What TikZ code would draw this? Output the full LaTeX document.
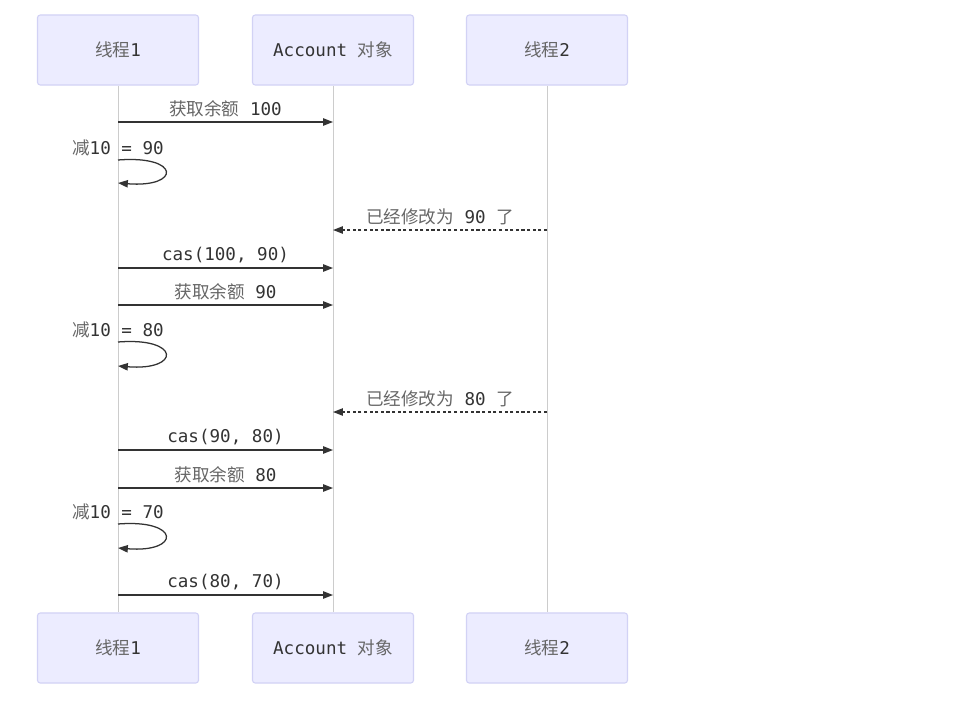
\documentclass[tikz,border=0pt]{standalone}
\usepackage{fontspec}
\setmainfont{DejaVu Sans Mono}
\newfontfamily\cjk{Noto Sans CJK SC}
\usetikzlibrary{arrows.meta}
\definecolor{boxfill}{HTML}{ECECFF}
\definecolor{boxline}{HTML}{D2D2F5}
\definecolor{lifegray}{HTML}{CCCCCC}
\definecolor{txt}{HTML}{333333}
\definecolor{zhtxt}{HTML}{666666}
\newcommand{\zh}[1]{{\cjk\color{zhtxt}#1}}
\tikzset{
  actor/.style={draw=boxline, fill=boxfill, rounded corners=2pt, line width=0.8pt,
    minimum width=4.025cm, minimum height=1.75cm, text=txt, font=\fontsize{12.5}{14}\selectfont},
  life/.style={draw=lifegray, line width=0.6pt},
  msg/.style={draw=txt, line width=0.9pt, -{Triangle[length=7pt,width=5.2pt]}},
  reply/.style={msg, dash pattern=on 2.2pt off 1.8pt},
  lbl/.style={text=txt, font=\fontsize{12.5}{14}\selectfont, above, inner sep=3pt}
}
\begin{document}
\begin{tikzpicture}[x=0.025cm, y=-0.025cm]
  \useasboundingbox (0,0) rectangle (968,704);
  % actors
  \node[actor] (t1top) at (118,50) {\zh{线程}1};
  \node[actor] (acctop) at (333,50) {Account \zh{对象}};
  \node[actor] (t2top) at (547,50) {\zh{线程}2};
  \node[actor] (t1bot) at (118,648) {\zh{线程}1};
  \node[actor] (accbot) at (333,648) {Account \zh{对象}};
  \node[actor] (t2bot) at (547,648) {\zh{线程}2};
  \draw[life] (t1top.south) -- (t1bot.north);
  \draw[life] (acctop.south) -- (accbot.north);
  \draw[life] (t2top.south) -- (t2bot.north);

  % message ends
  \coordinate (m1a) at (118,122); \coordinate (m1b) at (333,122);
  \coordinate (s1a) at (118,160); \coordinate (s1b) at (118,183);
  \coordinate (m2a) at (547,230); \coordinate (m2b) at (333,230);
  \coordinate (m3a) at (118,268); \coordinate (m3b) at (333,268);
  \coordinate (m4a) at (118,305); \coordinate (m4b) at (333,305);
  \coordinate (s2a) at (118,342); \coordinate (s2b) at (118,366);
  \coordinate (m5a) at (547,412); \coordinate (m5b) at (333,412);
  \coordinate (m6a) at (118,450); \coordinate (m6b) at (333,450);
  \coordinate (m7a) at (118,488); \coordinate (m7b) at (333,488);
  \coordinate (s3a) at (118,524); \coordinate (s3b) at (118,548);
  \coordinate (m8a) at (118,595); \coordinate (m8b) at (333,595);

  \draw[msg] (m1a) -- node[lbl] {\zh{获取余额} 100} (m1b);
  \node[lbl] (n1) at (s1a) {\zh{减}10 = 90};
  \draw[msg] (s1a) .. controls (181,155) and (181,188) .. (s1b);
  \draw[reply] (m2a) -- node[lbl] {\zh{已经修改为} 90 \zh{了}} (m2b);
  \draw[msg] (m3a) -- node[lbl] {cas(100, 90)} (m3b);
  \draw[msg] (m4a) -- node[lbl] {\zh{获取余额} 90} (m4b);
  \node[lbl] (n2) at (s2a) {\zh{减}10 = 80};
  \draw[msg] (s2a) .. controls (181,337) and (181,371) .. (s2b);
  \draw[reply] (m5a) -- node[lbl] {\zh{已经修改为} 80 \zh{了}} (m5b);
  \draw[msg] (m6a) -- node[lbl] {cas(90, 80)} (m6b);
  \draw[msg] (m7a) -- node[lbl] {\zh{获取余额} 80} (m7b);
  \node[lbl] (n3) at (s3a) {\zh{减}10 = 70};
  \draw[msg] (s3a) .. controls (181,519) and (181,553) .. (s3b);
  \draw[msg] (m8a) -- node[lbl] {cas(80, 70)} (m8b);
\end{tikzpicture}
\end{document}
